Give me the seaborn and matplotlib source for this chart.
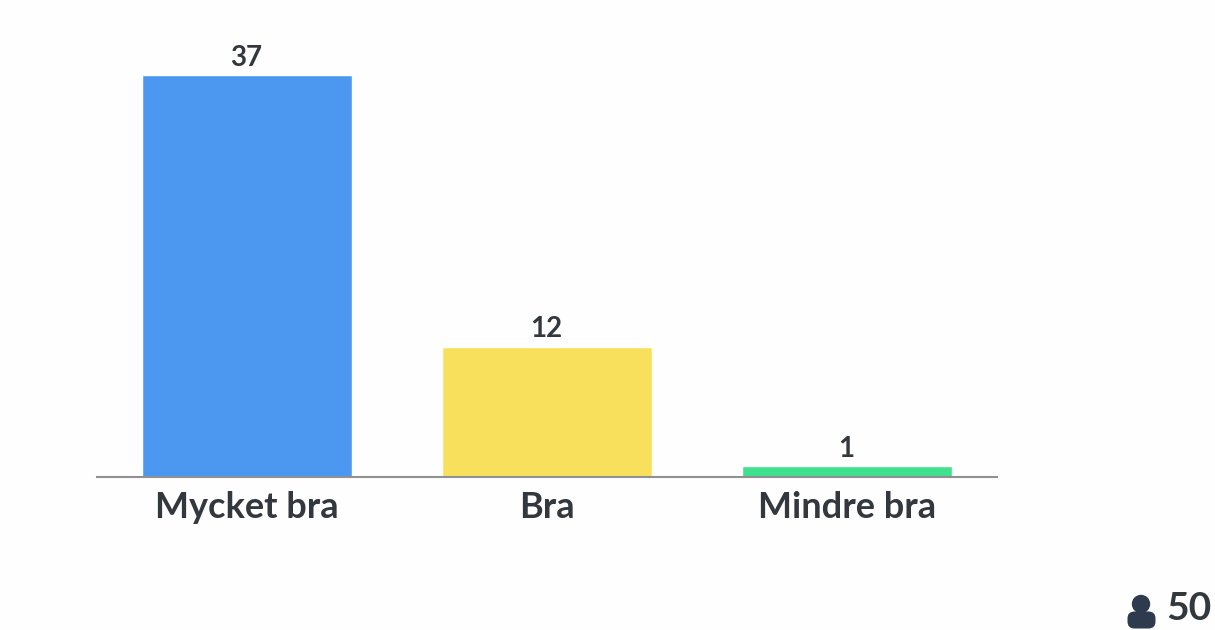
import matplotlib
matplotlib.use("Agg")
import matplotlib.pyplot as plt
import seaborn as sns
import pandas as pd
from matplotlib.patches import Circle, FancyBboxPatch
from matplotlib.transforms import Affine2D

categories = ["Mycket bra", "Bra", "Mindre bra"]
values = [37, 12, 1]
colors = ["#4C98F0", "#F9E05C", "#3FE08E"]
total = "50"

TEXT = "#33383F"
W, H = 1215, 630

sns.set_theme(style="white")
plt.rcParams["font.family"] = ["Lato", "DejaVu Sans"]

df = pd.DataFrame({"svar": categories, "antal": values})

fig = plt.figure(figsize=(W / 100, H / 100), dpi=100, facecolor="#FEFEFE")
# axes placed in pixels so the baseline sits at y=477
ax = fig.add_axes([96.7 / W, (H - 477) / H, 900 / W, 457 / H])
ax.patch.set_alpha(0)

sns.barplot(data=df, x="svar", y="antal", hue="svar", palette=colors,
            width=0.7, legend=False, saturation=1, ax=ax)

ax.set_xlim(-0.5, 2.5)
ax.set_ylim(0, 457 / (402 / 37))
ax.set_xlabel("")
ax.set_ylabel("")
ax.set_yticks([])
ax.tick_params(axis="x", length=0, pad=10, labelsize=26, labelcolor=TEXT)
for lab in ax.get_xticklabels():
    lab.set_fontweight("bold")

sns.despine(ax=ax, left=True)
ax.spines["bottom"].set_color("#8E9094")
ax.spines["bottom"].set_linewidth(1.5)

for cont in ax.containers:
    ax.bar_label(cont, padding=3, fontsize=20, color=TEXT, fontweight="bold")

# participant count, bottom right
icon = Affine2D().scale(1, -1).translate(0, H)  # pixel coords, y down
fig.add_artist(Circle((1141, 604), 8.5, transform=icon, color="#2E3B4E"))
fig.add_artist(FancyBboxPatch((1134, 618), 15, 4,
                              boxstyle="round,pad=6.5,rounding_size=7",
                              transform=icon, color="#2E3B4E", lw=0))
fig.text(1166.5 / W, (H - 609) / H, total, fontsize=28, color=TEXT, fontweight="bold",
         ha="left", va="center")

fig.savefig("out.png", dpi=100, facecolor=fig.get_facecolor())
